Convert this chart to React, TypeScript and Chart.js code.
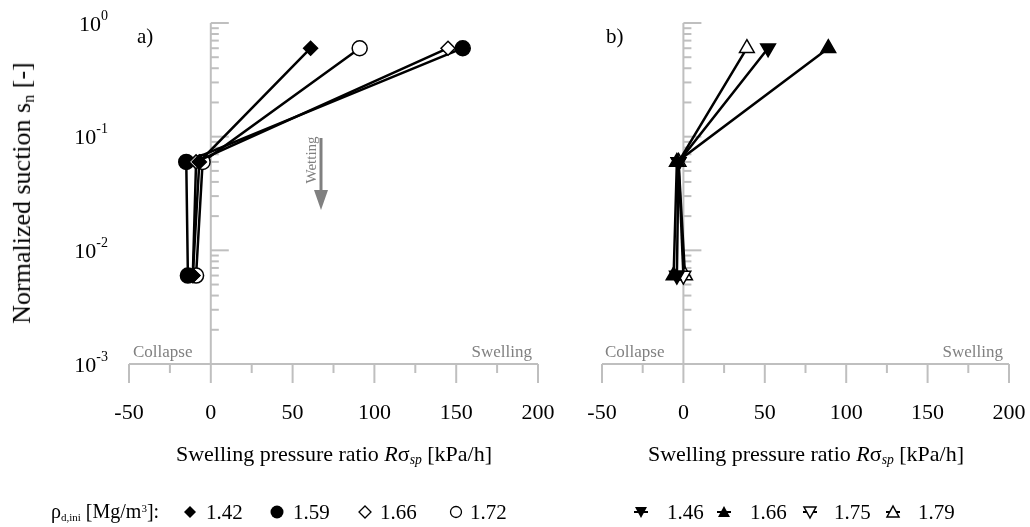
import React, { useEffect, useRef } from 'react';
import { Chart, registerables } from 'chart.js';
Chart.register(...registerables);

// ---- data ----
const SUCTION = [0.6, 0.06, 0.006];
const A_142 = [61, -7, -11];
const A_159 = [154, -15, -14];
const A_166 = [145, -9, -11];
const A_172 = [91, -5, -9];
const B_146 = [52, -3, -4];
const B_166 = [89, -4, -6];
const B_175: (number | null)[] = [null, -3, 0];
const B_179 = [39, -3, 1];
const X_TICKS = [-50, 0, 50, 100, 150, 200];
const X_MINOR = [-25, 25, 75, 125, 175];
const Y_DECADES = [-3, -2, -1, 0];
const Y_MINOR_MULT = [2, 3, 4, 5, 6, 7, 8, 9];

const W = 1030;
const H = 527;
const GRAY = '#bfbfbf';
const TXT_GRAY = '#808080';
const FONT = '"Liberation Serif", "Times New Roman", serif';

const toPts = (xs: (number | null)[]) =>
  xs
    .map((x, i) => (x === null ? null : { x, y: SUCTION[i] }))
    .filter((p) => p !== null) as { x: number; y: number }[];

type Marker = { style: string; rot: number; fill: string; r: number };

const ds = (label: string, vals: (number | null)[], m: Marker) => ({
  label,
  data: toPts(vals),
  showLine: true,
  borderColor: '#000',
  borderWidth: 2.5,
  pointStyle: m.style,
  pointRotation: m.rot,
  pointRadius: m.r,
  pointBackgroundColor: m.fill,
  pointBorderColor: '#000',
  pointBorderWidth: 1.5,
});

const axesPlugin = (showYLabels: boolean) => ({
  id: 'customAxes',
  beforeDatasetsDraw(chart: any) {
    const ctx = chart.ctx as CanvasRenderingContext2D;
    const xs = chart.scales.x;
    const ys = chart.scales.y;
    const x0 = xs.getPixelForValue(0);
    const yTop = ys.getPixelForValue(1);
    const yBot = ys.getPixelForValue(0.001);
    const ln = (a: number, b: number, c: number, d: number) => {
      ctx.beginPath();
      ctx.moveTo(a, b);
      ctx.lineTo(c, d);
      ctx.stroke();
    };
    ctx.save();
    ctx.strokeStyle = GRAY;
    ctx.lineWidth = 2;
    ln(x0, yTop, x0, yBot);
    Y_DECADES.forEach((k) => {
      const y = ys.getPixelForValue(Math.pow(10, k));
      ln(x0, y, x0 + 18, y);
    });
    Y_DECADES.slice(0, 3).forEach((k) => {
      Y_MINOR_MULT.forEach((m) => {
        const y = ys.getPixelForValue(m * Math.pow(10, k));
        ln(x0, y, x0 + 8, y);
      });
    });
    ln(xs.getPixelForValue(-50), yBot, xs.getPixelForValue(200), yBot);
    X_TICKS.forEach((v) => {
      const x = xs.getPixelForValue(v);
      ln(x, yBot, x, yBot + 19);
    });
    X_MINOR.forEach((v) => {
      const x = xs.getPixelForValue(v);
      ln(x, yBot, x, yBot + 9);
    });
    // x tick labels
    ctx.fillStyle = '#000';
    ctx.font = `22px ${FONT}`;
    ctx.textAlign = 'center';
    ctx.textBaseline = 'middle';
    X_TICKS.forEach((v) => {
      ctx.fillText(String(v), xs.getPixelForValue(v), yBot + 49);
    });
    if (showYLabels) {
      const right = xs.left - 21;
      Y_DECADES.forEach((k) => {
        const y = ys.getPixelForValue(Math.pow(10, k));
        ctx.font = `22px ${FONT}`;
        const w10 = ctx.measureText('10').width;
        ctx.font = `14px ${FONT}`;
        const sup = String(k);
        const ws = ctx.measureText(sup).width;
        ctx.textAlign = 'left';
        ctx.font = `22px ${FONT}`;
        ctx.fillText('10', right - w10 - ws, y + 2);
        ctx.font = `14px ${FONT}`;
        ctx.fillText(sup, right - ws, y - 7);
      });
    }
    ctx.restore();
  },
});

function makeChart(canvas: HTMLCanvasElement, datasets: any[], left: number, right: number, showY: boolean) {
  return new Chart(canvas, {
    type: 'scatter',
    data: { datasets },
    options: {
      animation: false,
      responsive: false,
      devicePixelRatio: 1,
      events: [],
      layout: { padding: { left, right: W - right, top: 23, bottom: H - 364 } },
      scales: {
        x: { type: 'linear', min: -50, max: 200, display: false },
        y: { type: 'logarithmic', min: 0.001, max: 1, display: false },
      },
      plugins: { legend: { display: false }, tooltip: { enabled: false } },
    } as any,
    plugins: [axesPlugin(showY)],
  });
}

const DIAMOND_F: Marker = { style: 'rectRot', rot: 0, fill: '#000', r: 7 };
const DIAMOND_O: Marker = { style: 'rectRot', rot: 0, fill: '#fff', r: 7 };
const CIRCLE_F: Marker = { style: 'circle', rot: 0, fill: '#000', r: 7.5 };
const CIRCLE_O: Marker = { style: 'circle', rot: 0, fill: '#fff', r: 7.5 };
const TRI_DN_F: Marker = { style: 'triangle', rot: 180, fill: '#000', r: 8.5 };
const TRI_UP_F: Marker = { style: 'triangle', rot: 0, fill: '#000', r: 8.5 };
const TRI_DN_O: Marker = { style: 'triangle', rot: 180, fill: '#fff', r: 8.5 };
const TRI_UP_O: Marker = { style: 'triangle', rot: 0, fill: '#fff', r: 8.5 };

const abs = (left: number, top: number, extra: React.CSSProperties = {}): React.CSSProperties => ({
  position: 'absolute',
  left,
  top,
  whiteSpace: 'nowrap',
  lineHeight: 1,
  ...extra,
});

function LegendMarker({ kind }: { kind: string }) {
  const s = 16;
  let shape: React.ReactNode = null;
  const stroke = '#000';
  if (kind === 'dF') shape = <polygon points="8,2 14,8 8,14 2,8" fill="#000" />;
  if (kind === 'dO') shape = <polygon points="8,2 14,8 8,14 2,8" fill="#fff" stroke={stroke} strokeWidth={1.3} />;
  if (kind === 'cF') shape = <circle cx={8} cy={8} r={6.5} fill="#000" />;
  if (kind === 'cO') shape = <circle cx={8} cy={8} r={5.5} fill="#fff" stroke={stroke} strokeWidth={1.3} />;
  const line = <line x1={1} y1={8} x2={15} y2={8} stroke="#000" strokeWidth={2} />;
  if (kind === 'tDF') shape = <>{line}<polygon points="2,3 14,3 8,14" fill="#000" /></>;
  if (kind === 'tUF') shape = <>{line}<polygon points="2,13 14,13 8,2" fill="#000" /></>;
  if (kind === 'tDO') shape = <>{line}<polygon points="2,3 14,3 8,14" fill="#fff" stroke="#000" strokeWidth={1.5} /></>;
  if (kind === 'tUO') shape = <>{line}<polygon points="2,13 14,13 8,2" fill="#fff" stroke="#000" strokeWidth={1.5} /></>;
  return (
    <svg width={s} height={s} viewBox="0 0 16 16" style={{ display: 'block' }}>
      {shape}
    </svg>
  );
}

const LEG_A = [
  { kind: 'dF', label: '1.42', mx: 190, tx: 206 },
  { kind: 'cF', label: '1.59', mx: 277, tx: 293 },
  { kind: 'dO', label: '1.66', mx: 365, tx: 380 },
  { kind: 'cO', label: '1.72', mx: 456, tx: 470 },
];
const LEG_B = [
  { kind: 'tDF', label: '1.46', mx: 641, tx: 667 },
  { kind: 'tUF', label: '1.66', mx: 724, tx: 750 },
  { kind: 'tDO', label: '1.75', mx: 810, tx: 834 },
  { kind: 'tUO', label: '1.79', mx: 893, tx: 918 },
];

export default function App() {
  const refA = useRef<HTMLCanvasElement>(null);
  const refB = useRef<HTMLCanvasElement>(null);

  useEffect(() => {
    const a = makeChart(
      refA.current!,
      [
        ds('1.42', A_142, DIAMOND_F),
        ds('1.66', A_166, DIAMOND_O),
        ds('1.59', A_159, CIRCLE_F),
        ds('1.72', A_172, CIRCLE_O),
      ],
      129,
      538,
      true
    );
    const b = makeChart(
      refB.current!,
      [
        ds('1.66', B_166, TRI_UP_F),
        ds('1.46', B_146, TRI_DN_F),
        ds('1.75', B_175, TRI_DN_O),
        ds('1.79', B_179, TRI_UP_O),
      ],
      602,
      1009,
      false
    );
    return () => {
      a.destroy();
      b.destroy();
    };
  }, []);

  const sub = (t: string, italic = false, size = '0.62em') => (
    <span style={{ fontSize: size, verticalAlign: '-0.25em', fontStyle: italic ? 'italic' : 'normal' }}>{t}</span>
  );
  const xTitle = (
    <>
      Swelling pressure ratio <i>R</i>σ{sub('sp', true)} [kPa/h]
    </>
  );

  return (
    <div style={{ position: 'fixed', left: 0, top: 0, width: W, height: H, background: '#fff', fontFamily: FONT, color: '#000', overflow: 'hidden' }}>
      <canvas ref={refA} width={W} height={H} style={{ position: 'absolute', left: 0, top: 0, width: W, height: H }} />
      <canvas ref={refB} width={W} height={H} style={{ position: 'absolute', left: 0, top: 0, width: W, height: H }} />

      {/* y title */}
      <div style={abs(23, 193, { fontSize: 26, transform: 'translate(-50%, -50%) rotate(-90deg)' })}>
        Normalized suction s{sub('n')} [-]
      </div>

      {/* panel labels */}
      <div style={abs(137, 26, { fontSize: 21 })}>a)</div>
      <div style={abs(606, 26, { fontSize: 21 })}>b)</div>

      {/* collapse / swelling */}
      <div style={abs(133, 343, { fontSize: 17, color: TXT_GRAY })}>Collapse</div>
      <div style={abs(532, 343, { fontSize: 17, color: TXT_GRAY, transform: 'translateX(-100%)' })}>Swelling</div>
      <div style={abs(605, 343, { fontSize: 17, color: TXT_GRAY })}>Collapse</div>
      <div style={abs(1003, 343, { fontSize: 17, color: TXT_GRAY, transform: 'translateX(-100%)' })}>Swelling</div>

      {/* wetting arrow */}
      <div style={abs(311, 160, { fontSize: 15, color: TXT_GRAY, transform: 'translate(-50%, -50%) rotate(-90deg)' })}>Wetting</div>
      <svg width={20} height={80} style={{ position: 'absolute', left: 311, top: 134 }}>
        <line x1={10} y1={4} x2={10} y2={58} stroke={TXT_GRAY} strokeWidth={3} />
        <polygon points="3,56 17,56 10,76" fill={TXT_GRAY} />
      </svg>

      {/* x titles */}
      <div style={abs(334, 455, { fontSize: 22, transform: 'translate(-50%, -50%)' })}>{xTitle}</div>
      <div style={abs(806, 455, { fontSize: 22, transform: 'translate(-50%, -50%)' })}>{xTitle}</div>

      {/* legend */}
      <div style={abs(51, 512, { fontSize: 20, transform: 'translateY(-50%)' })}>
        ρ{sub('d,ini', false, '0.55em')} [Mg/m<span style={{ fontSize: '0.55em', verticalAlign: '0.6em' }}>3</span>]:
      </div>
      {[...LEG_A, ...LEG_B].map((l, i) => (
        <React.Fragment key={i}>
          <div style={abs(l.mx - 8, 504)}>
            <LegendMarker kind={l.kind} />
          </div>
          <div style={abs(l.tx, 512, { fontSize: 21, transform: 'translateY(-50%)' })}>{l.label}</div>
        </React.Fragment>
      ))}
    </div>
  );
}
